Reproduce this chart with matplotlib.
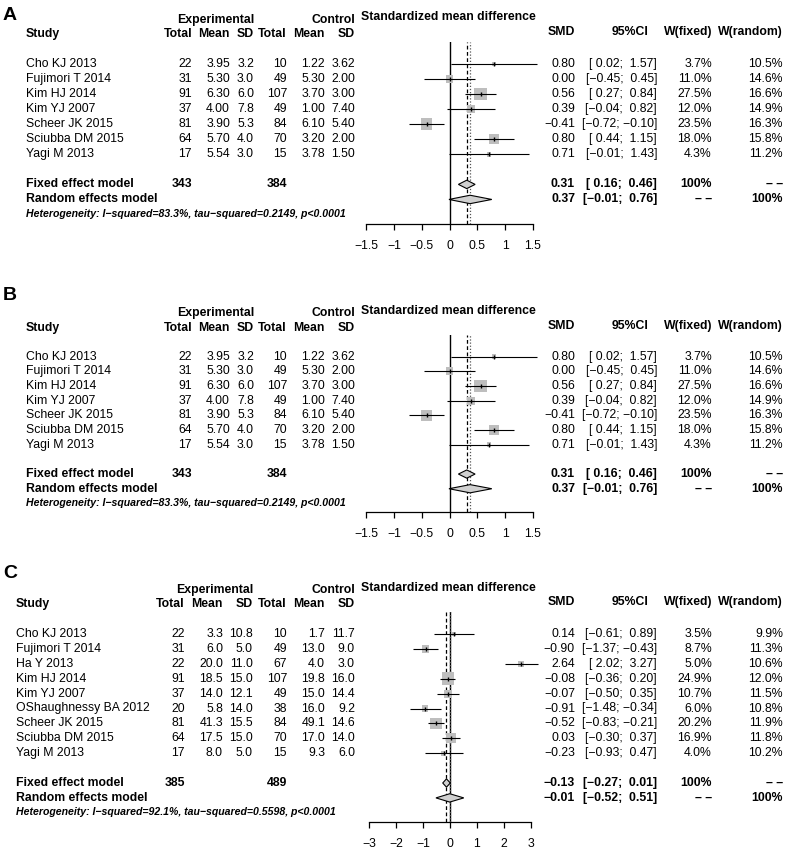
import matplotlib
matplotlib.use('Agg')
import numpy as np
import matplotlib.pyplot as plt
import matplotlib.transforms as mtransforms
from matplotlib.patches import Polygon

plt.rcParams['font.family'] = ['Liberation Sans', 'DejaVu Sans']

# ---- panels A and B (same data) ----
ab_studies = ['Cho KJ 2013', 'Fujimori T 2014', 'Kim HJ 2014', 'Kim YJ 2007',
              'Scheer JK 2015', 'Sciubba DM 2015', 'Yagi M 2013']
ab_exp_n = [22, 31, 91, 37, 81, 64, 17]
ab_exp_mean = [3.95, 5.30, 6.30, 4.00, 3.90, 5.70, 5.54]
ab_exp_sd = [3.2, 3.0, 6.0, 7.8, 5.3, 4.0, 3.0]
ab_ctl_n = [10, 49, 107, 49, 84, 70, 15]
ab_ctl_mean = [1.22, 5.30, 3.70, 1.00, 6.10, 3.20, 3.78]
ab_ctl_sd = [3.62, 2.00, 3.00, 7.40, 5.40, 2.00, 1.50]
ab_smd = [0.80, 0.00, 0.56, 0.39, -0.41, 0.80, 0.71]
ab_lower = [0.02, -0.45, 0.27, -0.04, -0.72, 0.44, -0.01]
ab_upper = [1.57, 0.45, 0.84, 0.82, -0.10, 1.15, 1.43]
ab_w_fixed = [3.7, 11.0, 27.5, 12.0, 23.5, 18.0, 4.3]
ab_w_random = [10.5, 14.6, 16.6, 14.9, 16.3, 15.8, 11.2]
ab_fixed = [0.31, 0.16, 0.46]
ab_random = [0.37, -0.01, 0.76]
ab_totals = [343, 384]
ab_het = 'Heterogeneity: I\u2212squared=83.3%, tau\u2212squared=0.2149, p<0.0001'
ab_ticks = [-1.5, -1, -0.5, 0, 0.5, 1, 1.5]
ab_tick_labels = ['\u22121.5', '\u22121', '\u22120.5', '0', '0.5', '1', '1.5']

# ---- panel C ----
c_studies = ['Cho KJ 2013', 'Fujimori T 2014', 'Ha Y 2013', 'Kim HJ 2014', 'Kim YJ 2007',
             'OShaughnessy BA 2012', 'Scheer JK 2015', 'Sciubba DM 2015', 'Yagi M 2013']
c_exp_n = [22, 31, 22, 91, 37, 20, 81, 64, 17]
c_exp_mean = [3.3, 6.0, 20.0, 18.5, 14.0, 5.8, 41.3, 17.5, 8.0]
c_exp_sd = [10.8, 5.0, 11.0, 15.0, 12.1, 14.0, 15.5, 15.0, 5.0]
c_ctl_n = [10, 49, 67, 107, 49, 38, 84, 70, 15]
c_ctl_mean = [1.7, 13.0, 4.0, 19.8, 15.0, 16.0, 49.1, 17.0, 9.3]
c_ctl_sd = [11.7, 9.0, 3.0, 16.0, 14.4, 9.2, 14.6, 14.0, 6.0]
c_smd = [0.14, -0.90, 2.64, -0.08, -0.07, -0.91, -0.52, 0.03, -0.23]
c_lower = [-0.61, -1.37, 2.02, -0.36, -0.50, -1.48, -0.83, -0.30, -0.93]
c_upper = [0.89, -0.43, 3.27, 0.20, 0.35, -0.34, -0.21, 0.37, 0.47]
c_w_fixed = [3.5, 8.7, 5.0, 24.9, 10.7, 6.0, 20.2, 16.9, 4.0]
c_w_random = [9.9, 11.3, 10.6, 12.0, 11.5, 10.8, 11.9, 11.8, 10.2]
c_fixed = [-0.13, -0.27, 0.01]
c_random = [-0.01, -0.52, 0.51]
c_totals = [385, 489]
c_het = 'Heterogeneity: I\u2212squared=92.1%, tau\u2212squared=0.5598, p<0.0001'
c_ticks = [-3, -2, -1, 0, 1, 2, 3]
c_tick_labels = ['\u22123', '\u22122', '\u22121', '0', '1', '2', '3']

W, H = 800, 861
FS = 8.8
GRAY = '#bebebe'
NA = '\u2013 \u2013'


def m(s):
    return s.replace('-', '\u2212')


def draw_panel(fig, letter, letter_y, y0, dy, xpx, study_x, cols, fmts,
               studies, exp_n, exp_mean, exp_sd, ctl_n, ctl_mean, ctl_sd,
               smd, lower, upper, w_fixed, w_random, fixed, random, totals, het,
               ticks, tick_labels):
    n = len(studies)
    r_top, r_axis = -1.47, n + 3.6
    top_px, bot_px = y0 + dy * r_top, y0 + dy * r_axis
    ax = fig.add_axes([xpx[0] / W, 1 - bot_px / H, (xpx[1] - xpx[0]) / W, (bot_px - top_px) / H])
    ax.set_xlim(ticks[0], ticks[-1])
    ax.set_ylim(r_axis, r_top)
    ax.patch.set_visible(False)
    for s in ['top', 'left', 'right']:
        ax.spines[s].set_visible(False)
    ax.spines['bottom'].set_linewidth(0.9)
    ax.set_yticks([])
    ax.set_xticks(ticks)
    ax.set_xticklabels(tick_labels, fontsize=FS)
    ax.tick_params(axis='x', direction='out', length=4.5, width=0.9, pad=7)

    ax.axvline(0, color='black', lw=1.0)
    ax.axvline(fixed[0], color='black', lw=0.9, ls=(0, (3, 2)))
    ax.axvline(random[0], color='#555555', lw=0.9, ls=(0, (1, 1.5)))

    rows = np.arange(n)
    wmax = max(w_fixed)
    sizes = [(12.5 * np.sqrt(w / wmax) * 0.72) ** 2 for w in w_fixed]
    ax.scatter(smd, rows, s=sizes, marker='s', color=GRAY, zorder=3, clip_on=False, linewidths=0)
    ax.hlines(rows, lower, upper, color='black', lw=0.8, zorder=4, clip_on=False)
    ax.scatter(smd, rows, s=6, marker='|', color='black', zorder=5, lw=1.0, clip_on=False)

    h = 0.28
    for (est, lo, hi), r in [(fixed, n + 1), (random, n + 2)]:
        ax.add_patch(Polygon([[lo, r], [est, r - h], [hi, r], [est, r + h]], closed=True,
                             facecolor='#d0d0d0', edgecolor='black', lw=0.8, zorder=4, clip_on=False))

    tr = mtransforms.blended_transform_factory(fig.transFigure, ax.transData)

    def t(xp, r, s, ha='right', **kw):
        kw.setdefault('fontsize', FS)
        ax.text(xp / W, r, s, transform=tr, ha=ha, va='center', clip_on=False, **kw)

    fig.text(3 / W, 1 - letter_y / H, letter, fontsize=14, fontweight='bold', ha='left', va='center')

    # headers
    t(cols[2], -2.95, 'Experimental', fontweight='bold')
    t(cols[5], -2.95, 'Control', fontweight='bold')
    t(361, -3.12, 'Standardized mean difference', ha='left', fontweight='bold')
    t(study_x, -1.98, 'Study', ha='left', fontweight='bold')
    for xp, lab in zip(cols, ['Total', 'Mean', 'SD', 'Total', 'Mean', 'SD']):
        t(xp, -1.98, lab, fontweight='bold')
    for xp, lab in zip([575, 648, 712, 783], ['SMD', '95%CI', 'W(fixed)', 'W(random)']):
        t(xp, -2.12, lab, fontweight='bold')

    # study rows
    for i in range(n):
        t(study_x, i, studies[i], ha='left')
        vals = [str(exp_n[i]), fmts[0] % exp_mean[i], fmts[1] % exp_sd[i],
                str(ctl_n[i]), fmts[2] % ctl_mean[i], fmts[3] % ctl_sd[i]]
        for xp, v in zip(cols, vals):
            t(xp, i, v)
        t(575, i, m('%.2f' % smd[i]))
        t(657, i, m('[%5.2f; %5.2f]' % (lower[i], upper[i])))
        t(712, i, '%.1f%%' % w_fixed[i])
        t(783, i, '%.1f%%' % w_random[i])

    # summary rows
    t(study_x, n + 1, 'Fixed effect model', ha='left', fontweight='bold')
    t(cols[0], n + 1, str(totals[0]), fontweight='bold')
    t(cols[3], n + 1, str(totals[1]), fontweight='bold')
    t(study_x, n + 2, 'Random effects model', ha='left', fontweight='bold')
    for (est, lo, hi), r, wf, wr in [(fixed, n + 1, '100%', NA), (random, n + 2, NA, '100%')]:
        t(575, r, m('%.2f' % est), fontweight='bold')
        t(657, r, m('[%5.2f; %5.2f]' % (lo, hi)), fontweight='bold')
        t(712, r, wf, fontweight='bold')
        t(783, r, wr, fontweight='bold')
    t(study_x, n + 2.95, het, ha='left', fontsize=7.6, fontweight='bold', fontstyle='italic')


fig = plt.figure(figsize=(8, 8.61), dpi=100)
ab_cols = [192, 230, 254, 287, 325, 355]
c_cols = [185, 223, 253, 287, 325, 355]
ab_fmts = ['%.2f', '%.1f', '%.2f', '%.2f']
c_fmts = ['%.1f', '%.1f', '%.1f', '%.1f']

for letter, ly, y0, dy in [('A', 16, 64, 15.05), ('B', 295, 356.7, 14.67)]:
    draw_panel(fig, letter, ly, y0, dy, (366, 533), 26, ab_cols, ab_fmts,
               ab_studies, ab_exp_n, ab_exp_mean, ab_exp_sd, ab_ctl_n, ab_ctl_mean, ab_ctl_sd,
               ab_smd, ab_lower, ab_upper, ab_w_fixed, ab_w_random, ab_fixed, ab_random,
               ab_totals, ab_het, ab_ticks, ab_tick_labels)

draw_panel(fig, 'C', 573, 634, 14.9, (369, 531), 16, c_cols, c_fmts,
           c_studies, c_exp_n, c_exp_mean, c_exp_sd, c_ctl_n, c_ctl_mean, c_ctl_sd,
           c_smd, c_lower, c_upper, c_w_fixed, c_w_random, c_fixed, c_random,
           c_totals, c_het, c_ticks, c_tick_labels)

fig.savefig('out.png', dpi=100, facecolor='white')
